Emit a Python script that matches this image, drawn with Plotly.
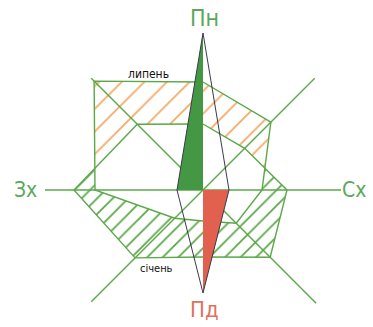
import numpy as np
import plotly.graph_objects as go

# wind rose data, clockwise from north
directions = ["Пн", "ПнСх", "Сх", "ПдСх", "Пд", "ПдЗх", "Зх", "ПнЗх"]
angles = [0, 45, 90, 135, 180, 225, 270, 315]
july = [108, 96, 59, 47, 31, 40, 108, 154]
january = [66, 59, 84, 95, 67, 96, 129, 93]

# axis rays (length along each direction)
ray_dirs = [45, 90, 135, 225, 270, 315]
ray_len = [158, 138, 160, 158, 158, 158]

# compass needle: north tip, south tip, half width
needle_n, needle_s, needle_w = 157, 103, 26

GREEN = "#5aa848"
ORANGE = "#f2aa66"
LINE_W = 1.4


def xy(r, deg):
    t = np.radians(np.asarray(deg, dtype=float))
    r = np.asarray(r, dtype=float)
    return r * np.sin(t), r * np.cos(t)


def closed(r, deg):
    x, y = xy(list(r) + [r[0]], list(deg) + [deg[0]])
    return x, y


def intersection(r1, r2, deg):
    # both roses share the same rays, so clip sector by sector
    px, py = [], []
    n = len(deg)
    for k in range(n):
        j = (k + 1) % n
        a1 = np.array(xy(r1[k], deg[k])); b1 = np.array(xy(r1[j], deg[j]))
        a2 = np.array(xy(r2[k], deg[k])); b2 = np.array(xy(r2[j], deg[j]))
        m = a1 if r1[k] <= r2[k] else a2
        px.append(m[0]); py.append(m[1])
        if (r1[k] - r2[k]) * (r1[j] - r2[j]) < 0:
            d1 = b1 - a1; d2 = b2 - a2
            A = np.array([[d1[0], -d2[0]], [d1[1], -d2[1]]])
            s, _ = np.linalg.solve(A, a2 - a1)
            p = a1 + s * d1
            px.append(p[0]); py.append(p[1])
    px.append(px[0]); py.append(py[0])
    return px, py


fig = go.Figure()

jx, jy = closed(july, angles)
wx, wy = closed(january, angles)
ix, iy = intersection(july, january, angles)

fig.add_trace(go.Scatter(x=jx, y=jy, mode="lines", fill="toself",
                         line=dict(width=0, color=ORANGE), fillcolor="rgba(0,0,0,0)",
                         fillpattern=dict(shape="/", fgcolor=ORANGE, fgopacity=1, bgcolor="white",
                                          size=16, solidity=0.11)))
fig.add_trace(go.Scatter(x=wx, y=wy, mode="lines", fill="toself",
                         line=dict(width=0, color=GREEN), fillcolor="rgba(0,0,0,0)",
                         fillpattern=dict(shape="/", fgcolor=GREEN, fgopacity=1, bgcolor="white",
                                          size=11, solidity=0.16)))
fig.add_trace(go.Scatter(x=ix, y=iy, mode="lines", fill="toself",
                         line=dict(width=0, color="white"), fillcolor="white"))

# axes
for d, L in zip(ray_dirs, ray_len):
    x, y = xy([0, L], [d, d])
    fig.add_trace(go.Scatter(x=x, y=y, mode="lines", line=dict(color=GREEN, width=LINE_W)))

# rose outlines
fig.add_trace(go.Scatter(x=jx, y=jy, mode="lines", line=dict(color=GREEN, width=LINE_W)))
fig.add_trace(go.Scatter(x=wx, y=wy, mode="lines", line=dict(color=GREEN, width=LINE_W)))

# compass needle
fig.add_trace(go.Scatter(x=[0, -needle_w, 0, 0], y=[needle_n, 0, 0, needle_n], mode="lines",
                         fill="toself", fillcolor="#449843", line=dict(width=0)))
fig.add_trace(go.Scatter(x=[0, needle_w, 0, 0], y=[0, 0, -needle_s, 0], mode="lines",
                         fill="toself", fillcolor="#e2604e", line=dict(width=0)))
fig.add_trace(go.Scatter(x=[0, needle_w, 0, -needle_w, 0], y=[needle_n, 0, -needle_s, 0, needle_n],
                         mode="lines", line=dict(color="#3a3a4a", width=1)))

FONT = "Liberation Sans Narrow, DejaVu Sans Condensed, sans-serif"
labels = [
    ("Пн", 1, 172, 23, "#5aa85a"),
    ("Пд", 1, -119, 22, "#e0705a"),
    ("Зх", -178, 0, 21, "#5aa85a"),
    ("Сх", 151, 0, 21, "#5aa85a"),
    ("липень", -55, 116, 12, "#111111"),
    ("січень", -47, -78, 11, "#111111"),
]
for text, x, y, size, color in labels:
    fig.add_annotation(x=x, y=y, text=text, showarrow=False,
                       font=dict(family=FONT, size=size, color=color))

fig.update_xaxes(range=[-203, 170], visible=False)
fig.update_yaxes(range=[-137, 190], visible=False)
fig.update_layout(width=373, height=327, margin=dict(l=0, r=0, t=0, b=0),
                  showlegend=False, hovermode=False,
                  plot_bgcolor="white", paper_bgcolor="white")
fig.write_html("out.html", config={"displayModeBar": False},
               post_script="document.body.style.margin='0';")
